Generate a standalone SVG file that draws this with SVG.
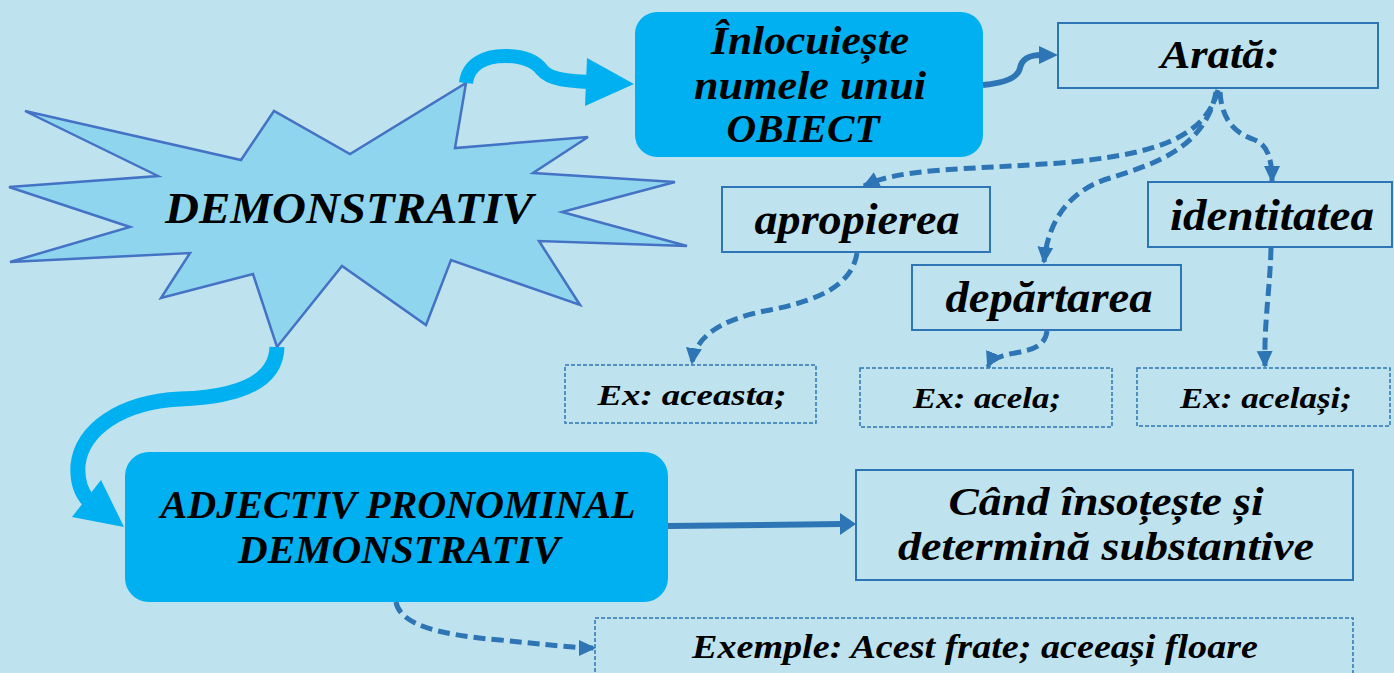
<svg xmlns="http://www.w3.org/2000/svg" width="1394" height="673" viewBox="0 0 1394 673">
<defs>
<style>
.t{font-family:"Liberation Serif","Times New Roman",serif;font-weight:bold;font-style:italic;fill:#000;text-anchor:middle}
.box{fill:none;stroke:#2E75B6;stroke-width:2}
.dot{fill:none;stroke:#2E75B6;stroke-width:1.5;stroke-dasharray:4 2}
.cyan{fill:#00B0F0}
.thick{fill:none;stroke:#00B0F0}
.solid{fill:none;stroke:#2E75B6;stroke-width:6}
.dash{fill:none;stroke:#2E75B6;stroke-width:5;stroke-dasharray:12 6;marker-end:url(#ah)}
</style>
<marker id="ah" markerUnits="userSpaceOnUse" markerWidth="18" markerHeight="18" refX="15" refY="8" orient="auto" viewBox="0 0 18 16">
<path d="M0,0 L17,8 L0,16 z" fill="#2E75B6"/>
</marker>
</defs>
<rect x="0" y="0" width="1394" height="673" fill="#BEE3EE"/>

<g id="star">
<polygon points="25,111 241,160 274,111 350,154 466,83 455,148 588,137 533,173 675,182 562,212 687,246 539,241 580,305 451,260 426,325 342,266 277,347 253,274 161,298 190,253 10,262 130,227 9,187 158,176" fill="#8FD5EE" stroke="#4472C4" stroke-width="2.5" stroke-linejoin="miter"/>
<text class="t" x="349" y="223" font-size="45" textLength="368" lengthAdjust="spacingAndGlyphs">DEMONSTRATIV</text>
</g>

<g id="inlocuieste">
<rect x="635" y="12" width="348" height="145" rx="22" class="cyan"/>
<text class="t" x="810" y="54" font-size="40" textLength="198" lengthAdjust="spacingAndGlyphs">Înlocuiește</text>
<text class="t" x="810" y="99" font-size="40" textLength="232" lengthAdjust="spacingAndGlyphs">numele unui</text>
<text class="t" x="803" y="142" font-size="40" textLength="153" lengthAdjust="spacingAndGlyphs">OBIECT</text>
</g>

<g id="arata">
<rect x="1058" y="23" width="320" height="65" class="box"/>
<text class="t" x="1220" y="68" font-size="41" textLength="119" lengthAdjust="spacingAndGlyphs">Arată:</text>
</g>

<g id="apropierea">
<rect x="722" y="187" width="268" height="65" class="box"/>
<text class="t" x="857" y="234" font-size="44" textLength="205" lengthAdjust="spacingAndGlyphs">apropierea</text>
</g>

<g id="identitatea">
<rect x="1148" y="182" width="244" height="65" class="box"/>
<text class="t" x="1272" y="230" font-size="44" textLength="204" lengthAdjust="spacingAndGlyphs">identitatea</text>
</g>

<g id="departarea">
<rect x="912" y="265" width="269" height="65" class="box"/>
<text class="t" x="1049" y="312" font-size="44" textLength="207" lengthAdjust="spacingAndGlyphs">depărtarea</text>
</g>

<g id="ex-aceasta">
<rect x="565" y="365" width="251" height="58" class="dot"/>
<text class="t" x="692" y="405" font-size="30" textLength="189" lengthAdjust="spacingAndGlyphs">Ex: aceasta;</text>
</g>

<g id="ex-acela">
<rect x="860" y="368" width="252" height="59" class="dot"/>
<text class="t" x="987" y="408" font-size="30" textLength="148" lengthAdjust="spacingAndGlyphs">Ex: acela;</text>
</g>

<g id="ex-acelasi">
<rect x="1137" y="368" width="253" height="58" class="dot"/>
<text class="t" x="1266" y="408" font-size="30" textLength="172" lengthAdjust="spacingAndGlyphs">Ex: același;</text>
</g>

<g id="adjectiv">
<rect x="125" y="452" width="543" height="150" rx="24" class="cyan"/>
<text class="t" x="398" y="518" font-size="39" textLength="475" lengthAdjust="spacingAndGlyphs">ADJECTIV PRONOMINAL</text>
<text class="t" x="399" y="563" font-size="39" textLength="322" lengthAdjust="spacingAndGlyphs">DEMONSTRATIV</text>
</g>

<g id="cand">
<rect x="856" y="470" width="497" height="110" class="box"/>
<text class="t" x="1106" y="515" font-size="40" textLength="315" lengthAdjust="spacingAndGlyphs">Când însoțește și</text>
<text class="t" x="1106" y="560" font-size="40" textLength="416" lengthAdjust="spacingAndGlyphs">determină substantive</text>
</g>

<g id="exemple">
<rect x="595" y="618" width="758" height="70" class="dot"/>
<text class="t" x="975" y="658" font-size="33" textLength="566" lengthAdjust="spacingAndGlyphs">Exemple: Acest frate; aceeași floare</text>
</g>

<g id="connectors">
<path class="thick" stroke-width="14" d="M466,83 C468,64 485,56 505,56 C525,56 536,62 542,70 C550,80 570,81 590,82"/>
<polygon class="cyan" points="587,58 634,84 585,106"/>
<path class="thick" stroke-width="15" d="M277,347 C276,382 240,397 180,399 C120,402 82,430 78,465 C77,480 81,492 88,500"/>
<polygon class="cyan" points="72,517 101,480 124,527"/>
<path class="solid" d="M983,85 C1005,83 1018,78 1020,68 C1022,58 1030,55 1042,55"/>
<polygon fill="#2E75B6" points="1039,46 1058,55 1039,64"/>
<path class="solid" d="M668,526 L842,524"/>
<polygon fill="#2E75B6" points="840,513 856,524 840,535"/>
<path class="dash" d="M1218,90 C1205,140 1150,155 1060,163 C960,170 900,168 864,186"/>
<path class="dash" d="M1216,92 C1205,150 1150,165 1110,178 C1070,190 1048,220 1044,262"/>
<path class="dash" d="M1220,92 C1222,125 1240,135 1255,140 C1268,145 1272,160 1272,181"/>
<path class="dash" d="M857,253 C852,285 820,300 770,310 C715,320 695,340 692,363"/>
<path class="dash" d="M1047,331 C1045,348 1030,350 1010,354 C995,357 990,362 988,367"/>
<path class="dash" d="M1271,248 C1270,290 1264,320 1265,366"/>
<path class="dash" d="M396,602 C400,625 440,635 500,640 C550,645 575,648 594,648"/>
</g>
</svg>
